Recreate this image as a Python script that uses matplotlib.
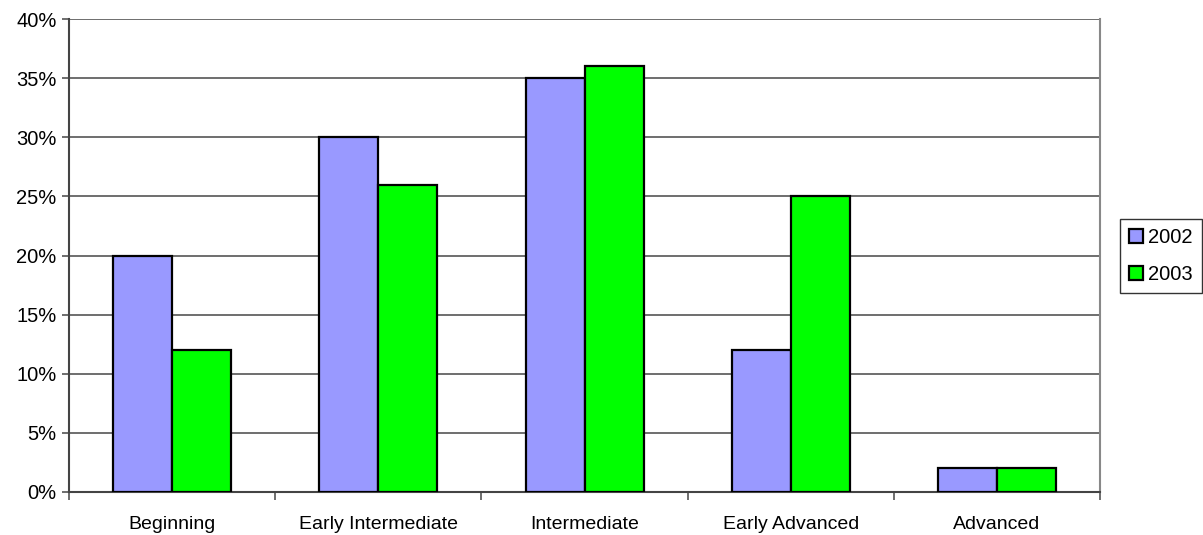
import numpy as np
import matplotlib.pyplot as plt

plt.rcParams['font.family'] = ['Liberation Sans', 'DejaVu Sans']

categories = ['Beginning', 'Early Intermediate', 'Intermediate', 'Early Advanced', 'Advanced']
pct_2002 = [20, 30, 35, 12, 2]
pct_2003 = [12, 26, 36, 25, 2]

fig = plt.figure(figsize=(12.03, 5.35), dpi=100)
ax = fig.add_axes([0.0574, 0.0804, 0.857, 0.884])

x = np.arange(len(categories))
w = 0.286
ax.bar(x - w / 2, pct_2002, w, color='#9999FF', edgecolor='black', linewidth=1.6, label='2002', zorder=3)
ax.bar(x + w / 2, pct_2003, w, color='#00FF00', edgecolor='black', linewidth=1.6, label='2003', zorder=3)

ax.set_xlim(-0.5, len(categories) - 0.5)
ax.set_ylim(0, 40)
ax.set_yticks(range(0, 41, 5))
ax.set_yticklabels([f'{v}%' for v in range(0, 41, 5)], fontsize=14.5)
ax.set_xticks(x)
ax.set_xticklabels(categories, fontsize=14)
ax.tick_params(axis='x', length=0, pad=17)
ax.set_xticks(np.arange(-0.5, len(categories)), minor=True)
ax.tick_params(axis='x', which='minor', length=6, width=1.2, color='#555555', direction='out')
ax.tick_params(axis='y', length=5, width=1.2, color='#555555', direction='out', pad=4)

ax.grid(axis='y', color='#555555', linewidth=1.2, zorder=0)
for s in ['left', 'bottom']:
    ax.spines[s].set_color('#444444')
    ax.spines[s].set_linewidth(1.5)
ax.spines['top'].set_visible(False)
ax.spines['right'].set_color('#888888')
ax.spines['right'].set_linewidth(1.5)

fig.legend(loc='center left', bbox_to_anchor=(0.931, 0.522), fontsize=14.5, frameon=True,
           fancybox=False, edgecolor='black', handlelength=0.7, handleheight=0.7,
           handletextpad=0.25, borderpad=0.45, labelspacing=0.9, borderaxespad=0)

fig.savefig('out.png', dpi=100)
